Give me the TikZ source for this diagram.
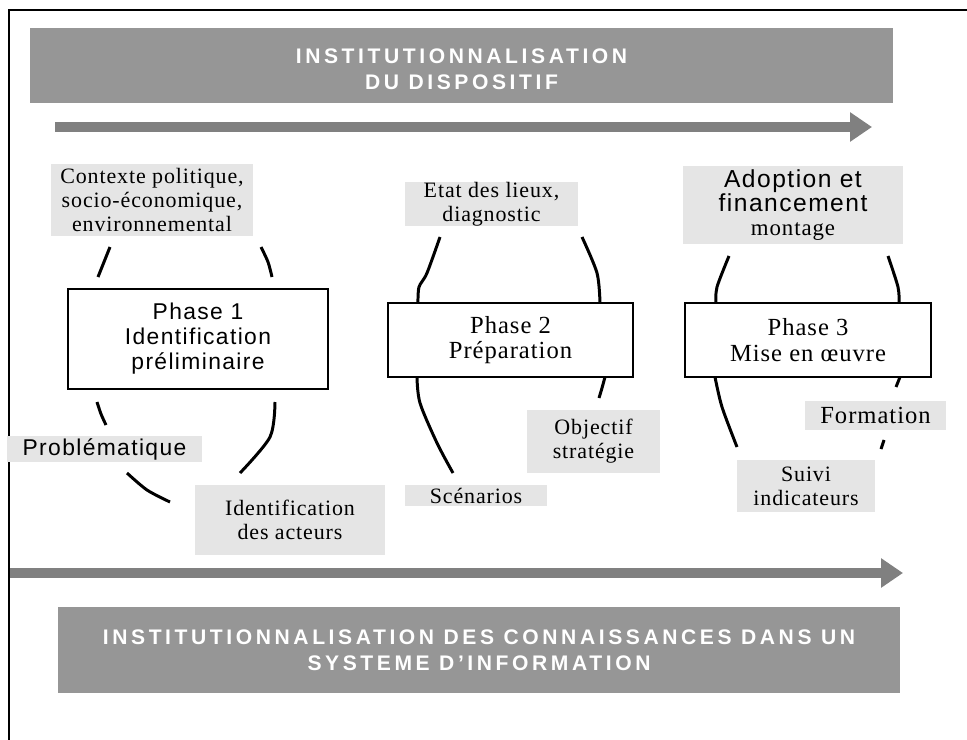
\documentclass[tikz,border=0pt]{standalone}
\usepackage{fontspec}
\setmainfont{Liberation Serif}
\setsansfont{Liberation Sans}
\newfontfamily\bannerfont[LetterSpace=17]{Liberation Sans}
\newfontfamily\phasefont[LetterSpace=6]{Liberation Sans}
\newfontfamily\notefont[LetterSpace=4]{Liberation Serif}
\usetikzlibrary{arrows.meta}
\definecolor{bannergray}{gray}{0.59}
\definecolor{arrowgray}{gray}{0.5}
\definecolor{notegray}{gray}{0.9}
\tikzset{banner/.style={fill=bannergray,text=white,align=center,inner sep=0pt,
		font=\bannerfont\bfseries\fontsize{12}{15}\selectfont},
	phasebox/.style={draw,line width=0.9pt,fill=white,align=center,inner sep=0pt},
	note/.style={fill=notegray,align=center,inner sep=0pt,
		font=\notefont\fontsize{12.5}{13.6}\selectfont},
	sansnote/.style={note,font=\phasefont\fontsize{13}{13.6}\selectfont},
	loopseg/.style={line width=1.7pt},
	flow/.style={draw=arrowgray,line width=6.2pt,-{Triangle[length=12.5pt,width=16pt]}}}

\begin{document}
\begin{tikzpicture}[x=0.02cm,y=-0.02cm]
	\useasboundingbox (0,0) rectangle (967,740);
	\draw[line width=1pt] (9,740) -- (9,10) -- (967,10);

	% banners and the two long arrows
	\node[banner,minimum width=17.26cm,minimum height=1.5cm] (dispositif) at (461.5,65.5) {};
	\node[banner] (dispositiftxt) at ([yshift=-0.07cm]dispositif.center) {INSTITUTIONNALISATION\\DU DISPOSITIF};
	\node[banner,minimum width=16.84cm,minimum height=1.72cm] (systeme) at (479,650)
		{INSTITUTIONNALISATION DES CONNAISSANCES DANS UN\\SYSTEME D’INFORMATION};
	\coordinate (haut0) at (55,127);
	\coordinate (haut1) at (872,127);
	\coordinate (bas0) at (10,573);
	\coordinate (bas1) at (903,573);
	\draw[flow] (haut0) -- (haut1);
	\draw[flow] (bas0) -- (bas1);

	% phase 1
	\node[note,minimum width=4.04cm,minimum height=1.44cm] (contexte) at (152,200)
		{Contexte politique,\\socio-économique,\\environnemental};
	\node[phasebox,minimum width=5.2cm,minimum height=2cm,font=\phasefont\fontsize{13}{14.2}\selectfont] (phase1) at (198,339)
		{Phase 1\\Identification\\préliminaire};
	\node[sansnote,minimum width=3.9cm,minimum height=0.52cm] (problematique) at (104.5,449)
		{Problématique};
	\node[note,minimum width=3.8cm,minimum height=1.42cm] (acteurs) at (290,520)
		{Identification\\des acteurs};
	\draw[loopseg] plot[smooth] coordinates {(110,247) (104,262) (98,277)};
	\draw[loopseg] plot[smooth] coordinates {(261,247) (268,262) (272,277)};
	\draw[loopseg] plot[smooth] coordinates {(97,402) (101,414) (106,425)};
	\draw[loopseg] plot[smooth] coordinates {(275,402) (270,437) (240,473)};
	\draw[loopseg] plot[smooth] coordinates {(127,473) (147,490) (170,502)};

	% phase 2
	\node[note,minimum width=3.46cm,minimum height=0.88cm] (etat) at (491.5,204)
		{Etat des lieux,\\diagnostic};
	\node[phasebox,minimum width=4.9cm,minimum height=1.48cm,font=\notefont\fontsize{14}{14.5}\selectfont] (phase2) at (510.5,340)
		{Phase 2\\Préparation};
	\node[note,minimum width=2.66cm,minimum height=1.26cm] (objectif) at (593.5,441.5)
		{Objectif\\stratégie};
	\node[note,minimum width=2.84cm,minimum height=0.42cm] (scenarios) at (476,495.5)
		{Scénarios};
	\draw[loopseg] plot[smooth] coordinates {(440,237) (427,273) (419,287) (418,303)};
	\draw[loopseg] plot[smooth] coordinates {(582,237) (597,273) (600,303)};
	\draw[loopseg] plot[smooth] coordinates {(417,377) (420,403) (437,443) (453,473)};
	\draw[loopseg] plot[smooth] coordinates {(605,377) (602,388) (599,398)};

	% phase 3
	\node[sansnote,minimum width=4.4cm,minimum height=1.56cm,anchor=north,font=\phasefont\fontsize{14}{13.6}\selectfont] (adoption) at (793,166)
		{Adoption et\\financement\\{\notefont\fontsize{13}{13.6}\selectfont montage}};
	\node[phasebox,minimum width=4.92cm,minimum height=1.48cm,font=\notefont\fontsize{14}{14.5}\selectfont] (phase3) at (808,340)
		{Phase 3\\Mise en œuvre};
	\node[note,minimum width=2.82cm,minimum height=0.58cm,font=\notefont\fontsize{14}{14}\selectfont] (formation) at (875.5,415)
		{Formation};
	\node[note,minimum width=2.76cm,minimum height=1.04cm] (suivi) at (806,486)
		{Suivi\\indicateurs};
	\draw[loopseg] plot[smooth] coordinates {(729,256) (717,287) (716,303)};
	\draw[loopseg] plot[smooth] coordinates {(888,256) (898,287) (899,303)};
	\draw[loopseg] plot[smooth] coordinates {(715,377) (722,407) (737,447)};
	\draw[loopseg] (900,377) -- (896,387);
	\draw[loopseg] (884,440) -- (881,449);
\end{tikzpicture}
\end{document}
